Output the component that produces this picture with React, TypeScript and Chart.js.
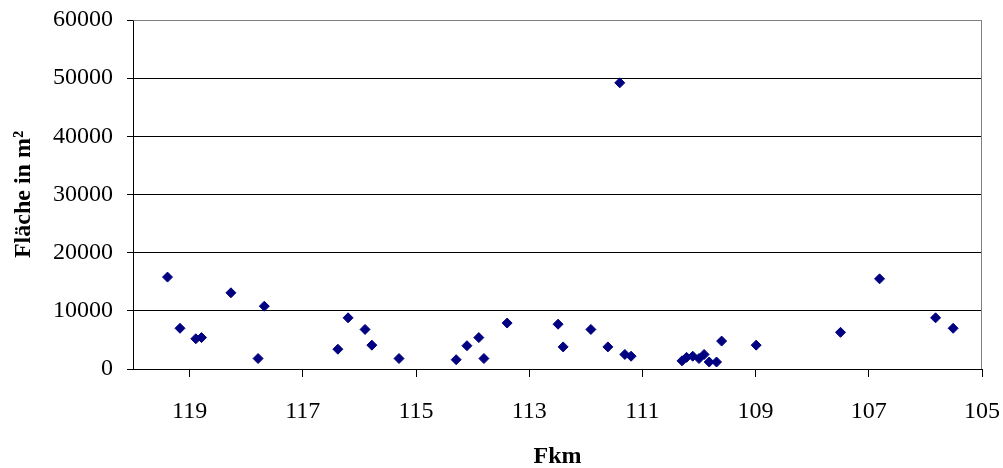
import React, { useEffect, useRef } from "react";
import { Chart, registerables } from "chart.js";

Chart.register(...registerables);

// River kilometre (Fkm) of each surveyed area
const fkm = [
  119.39, 119.17, 118.89, 118.79, 118.27, 117.79, 117.68, 116.38, 116.2, 115.9,
  115.78, 115.3, 114.29, 114.1, 113.89, 113.8, 113.39, 112.49, 112.4, 111.91,
  111.61, 111.4, 111.31, 111.2, 110.3, 110.22, 110.11, 110.0, 109.91, 109.82,
  109.69, 109.6, 108.99, 107.5, 106.81, 105.82, 105.51,
];

// Area in m² at each kilometre
const flaeche = [
  15800, 7000, 5200, 5400, 13100, 1800, 10800, 3400, 8800, 6800,
  4100, 1800, 1600, 4000, 5400, 1800, 7900, 7700, 3800, 6800,
  3800, 49200, 2500, 2200, 1400, 2000, 2200, 1800, 2500, 1200,
  1200, 4800, 4100, 6300, 15500, 8800, 7000,
];

const xTicks = [119, 117, 115, 113, 111, 109, 107, 105];
const yTicks = [0, 10000, 20000, 30000, 40000, 50000, 60000];

const X_MIN = 105;
const X_MAX = 120;
const Y_MIN = 0;
const Y_MAX = 60000;

const SERIF = "'Liberation Serif', 'Times New Roman', serif";

// Grey frame on the top and right edges of the plot area
const frameLines = {
  id: "frameLines",
  beforeDatasetsDraw(chart: any) {
    const { ctx, chartArea } = chart;
    const l = Math.round(chartArea.left) + 0.5;
    const r = Math.round(chartArea.right) - 0.5;
    const t = Math.round(chartArea.top) + 0.5;
    const b = Math.round(chartArea.bottom);
    ctx.save();
    ctx.strokeStyle = "#808080";
    ctx.lineWidth = 1;
    ctx.beginPath();
    ctx.moveTo(l, t);
    ctx.lineTo(r, t);
    ctx.lineTo(r, b);
    ctx.stroke();
    ctx.restore();
  },
};

export default function App() {
  const canvasRef = useRef<HTMLCanvasElement>(null);

  useEffect(() => {
    const canvas = canvasRef.current;
    if (!canvas) return;
    const chart = new Chart(canvas, {
      type: "scatter",
      data: {
        datasets: [
          {
            label: "Fläche",
            data: fkm.map((x, i) => ({ x, y: flaeche[i] })),
            pointStyle: "rectRot",
            pointRadius: 5,
            pointHoverRadius: 5,
            backgroundColor: "#000080",
            borderColor: "#000080",
            borderWidth: 1,
          },
        ],
      },
      options: {
        responsive: false,
        animation: false,
        events: [],
        layout: { padding: { top: 20, right: 21, left: 0, bottom: 0 } },
        plugins: {
          legend: { display: false },
          tooltip: { enabled: false },
        },
        scales: {
          x: {
            type: "linear",
            reverse: true,
            min: X_MIN,
            max: X_MAX,
            afterBuildTicks: (scale: any) => {
              scale.ticks = xTicks.map((v) => ({ value: v }));
            },
            afterFit: (scale: any) => {
              scale.height = 99;
              scale.paddingLeft = 0;
              scale.paddingRight = 0;
            },
            grid: {
              drawOnChartArea: false,
              drawTicks: true,
              tickLength: 8,
              color: "#000",
              tickColor: "#000",
            },
            border: { display: true, color: "#000", width: 1 },
            ticks: {
              color: "#000",
              padding: 20,
              maxRotation: 0,
              autoSkip: false,
              font: { family: SERIF, size: 24 },
              callback: (v: any) => String(v),
            },
            title: {
              display: true,
              text: "Fkm",
              color: "#000",
              padding: { top: 0, bottom: 0 },
              font: { family: SERIF, size: 24, weight: "bold", lineHeight: 0.9 },
            },
          },
          y: {
            type: "linear",
            min: Y_MIN,
            max: Y_MAX,
            afterBuildTicks: (scale: any) => {
              scale.ticks = yTicks.map((v) => ({ value: v }));
            },
            afterFit: (scale: any) => {
              scale.width = 133;
              scale.paddingTop = 0;
              scale.paddingBottom = 0;
            },
            grid: {
              drawTicks: true,
              tickLength: 6,
              color: (c: any) =>
                c.tick && c.tick.value === Y_MAX ? "#808080" : "#000",
              tickColor: "#000",
            },
            border: { display: true, color: "#000", width: 1 },
            ticks: {
              color: "#000",
              padding: 14,
              autoSkip: false,
              font: { family: SERIF, size: 24 },
              callback: (v: any) => String(v),
            },
            title: {
              display: true,
              text: "Fläche in m²",
              color: "#000",
              padding: { top: 9, bottom: 0 },
              font: { family: SERIF, size: 24, weight: "bold" },
            },
          },
        },
      },
      plugins: [frameLines],
    });
    return () => chart.destroy();
  }, []);

  return (
    <div
      style={{
        position: "fixed",
        left: 0,
        top: 0,
        width: 1003,
        height: 468,
        background: "#fff",
      }}
    >
      <canvas ref={canvasRef} width={1003} height={468} />
    </div>
  );
}
